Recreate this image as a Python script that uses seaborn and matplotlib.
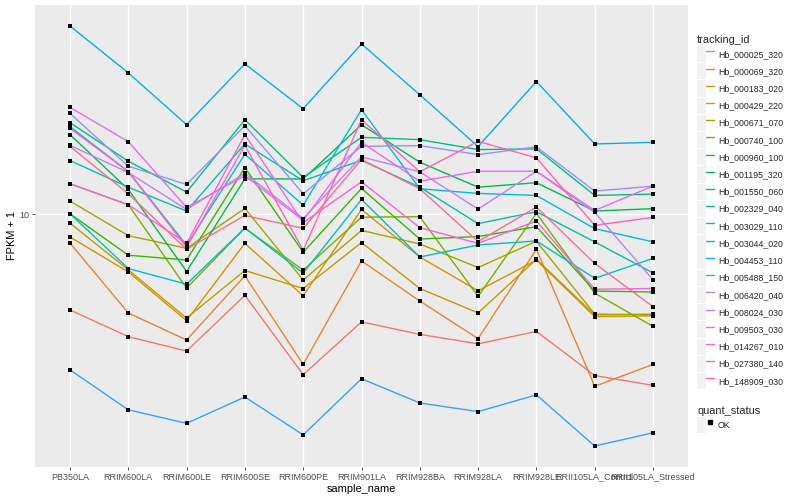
import numpy as np
import pandas as pd
import matplotlib
matplotlib.use('Agg')
import matplotlib.pyplot as plt
from matplotlib.lines import Line2D
from matplotlib.patches import Patch
from matplotlib.legend_handler import HandlerTuple
from matplotlib.ticker import NullLocator, NullFormatter
import seaborn as sns

# samples on the x axis
samples = ['PB350LA', 'RRIM600LA', 'RRIM600LE', 'RRIM600SE', 'RRIM600PE', 'RRIM901LA',
           'RRIM928BA', 'RRIM928LA', 'RRIM928LE', 'RRII105LA_Control', 'RRII105LA_Stressed']

tracking_ids = ['Hb_000025_320', 'Hb_000069_320', 'Hb_000183_020', 'Hb_000429_220',
                'Hb_000671_070', 'Hb_000740_100', 'Hb_000960_100', 'Hb_001195_320',
                'Hb_001550_060', 'Hb_002329_040', 'Hb_003029_110', 'Hb_003044_020',
                'Hb_004453_110', 'Hb_005488_150', 'Hb_006420_040', 'Hb_008024_030',
                'Hb_009503_030', 'Hb_014267_010', 'Hb_027380_140', 'Hb_148909_030']

# FPKM per gene, in sample order
fpkm_000025_320 = [3.79, 2.90, 2.49, 4.36, 1.91, 3.37, 2.97, 2.69, 3.06, 1.89, 1.68]
fpkm_000069_320 = [7.02, 3.68, 2.80, 5.23, 2.15, 5.99, 4.13, 2.84, 6.64, 1.66, 2.15]
fpkm_000183_020 = [7.40, 5.42, 3.41, 7.00, 4.34, 9.39, 6.20, 4.55, 6.03, 3.55, 3.58]
fpkm_000429_220 = [8.35, 5.52, 3.50, 5.49, 4.65, 7.05, 4.65, 3.68, 6.08, 3.61, 3.64]
fpkm_000671_070 = [10.08, 7.49, 6.70, 9.47, 5.03, 7.84, 6.96, 5.64, 7.13, 3.64, 3.61]
fpkm_000740_100 = [11.66, 9.77, 4.67, 8.00, 5.51, 8.79, 8.82, 4.32, 9.08, 4.45, 3.22]
fpkm_000960_100 = [9.05, 6.30, 6.04, 13.34, 6.47, 11.21, 7.27, 7.43, 8.10, 4.54, 4.50]
fpkm_001195_320 = [17.48, 11.12, 5.44, 12.15, 12.13, 18.95, 13.94, 11.33, 11.76, 9.26, 9.45]
fpkm_001550_060 = [19.26, 14.06, 10.87, 19.73, 12.29, 17.10, 16.78, 15.47, 15.56, 10.57, 10.69]
fpkm_002329_040 = [14.14, 11.33, 9.26, 16.20, 11.95, 14.17, 11.33, 8.31, 9.21, 7.09, 5.37]
fpkm_003029_110 = [9.05, 5.59, 4.84, 8.00, 5.36, 10.22, 6.20, 6.90, 7.15, 5.11, 6.13]
fpkm_003044_020 = [18.65, 12.91, 6.88, 14.89, 9.74, 21.39, 11.18, 10.75, 10.57, 7.96, 7.09]
fpkm_004453_110 = [41.66, 28.74, 18.95, 30.87, 21.56, 36.15, 24.12, 15.86, 26.82, 16.20, 16.42]
fpkm_005488_150 = [2.02, 1.22, 1.00, 1.45, 0.83, 1.82, 1.34, 1.19, 1.49, 0.68, 0.86]
fpkm_006420_040 = [20.76, 13.49, 11.59, 18.80, 10.72, 15.89, 15.98, 14.85, 15.81, 10.96, 11.43]
fpkm_008024_030 = [16.02, 12.80, 9.39, 12.70, 8.68, 14.57, 12.88, 9.41, 12.94, 9.15, 5.04]
fpkm_009503_030 = [21.79, 16.51, 9.55, 12.46, 8.55, 16.42, 11.91, 12.94, 12.94, 9.31, 11.43]
fpkm_014267_010 = [11.66, 9.77, 7.00, 17.48, 8.38, 11.85, 8.03, 7.00, 8.50, 4.62, 4.65]
fpkm_027380_140 = [18.40, 12.91, 6.76, 16.02, 6.59, 19.73, 12.88, 16.55, 14.45, 8.19, 8.77]
fpkm_148909_030 = [15.89, 10.72, 6.64, 8.92, 7.98, 14.26, 11.18, 7.11, 9.58, 5.85, 3.91]

series = [fpkm_000025_320, fpkm_000069_320, fpkm_000183_020, fpkm_000429_220,
          fpkm_000671_070, fpkm_000740_100, fpkm_000960_100, fpkm_001195_320,
          fpkm_001550_060, fpkm_002329_040, fpkm_003029_110, fpkm_003044_020,
          fpkm_004453_110, fpkm_005488_150, fpkm_006420_040, fpkm_008024_030,
          fpkm_009503_030, fpkm_014267_010, fpkm_027380_140, fpkm_148909_030]

# ggplot2 default hue palette for 20 levels
colors = ['#F8766D', '#EA8331', '#D89000', '#C09B00', '#A3A500', '#7CAE00', '#39B600',
          '#00BB4E', '#00BF7D', '#00C1A3', '#00BFC4', '#00BAE0', '#00B0F6', '#35A2FF',
          '#9590FF', '#C77CFF', '#E76BF3', '#FA62DB', '#FF62BC', '#FF6C91']

rows = []
for tid, vals in zip(tracking_ids, series):
    for s, v in zip(samples, vals):
        rows.append({'tracking_id': tid, 'sample_name': s, 'fpkm': v, 'quant_status': 'OK'})
df = pd.DataFrame(rows)
df['fpkm_plus1'] = df['fpkm'] + 1

sns.set_theme(style='darkgrid')
plt.rcParams['font.family'] = ['Liberation Sans', 'DejaVu Sans']

fig = plt.figure(figsize=(8, 5), dpi=100)
ax = fig.add_axes([35 / 800, 33 / 500, 653 / 800, 462 / 500])

sns.lineplot(data=df, x='sample_name', y='fpkm_plus1', hue='tracking_id',
             hue_order=tracking_ids, palette=colors, sort=False, estimator=None,
             lw=1.0, legend=False, ax=ax)
sns.scatterplot(data=df, x='sample_name', y='fpkm_plus1', color='black', marker='s',
                s=7, linewidth=0, legend=False, ax=ax, zorder=3)

# log10 axis with ggplot-style 5% expansion
ax.set_yscale('log')
lo = np.log10(df['fpkm_plus1'].min())
hi = np.log10(df['fpkm_plus1'].max())
pad = 0.05 * (hi - lo)
ax.set_ylim(10 ** (lo - pad), 10 ** (hi + pad))
ax.set_xlim(-0.6, len(samples) - 0.4)
ax.set_yticks([10])
ax.set_yticklabels(['10'])
ax.yaxis.set_minor_locator(NullLocator())
ax.yaxis.set_minor_formatter(NullFormatter())

ax.set_facecolor('#EBEBEB')
ax.grid(True, which='major', color='white', lw=1.0)
ax.set_axisbelow(True)
for sp in ax.spines.values():
    sp.set_visible(False)
ax.tick_params(axis='both', length=2, width=0.6, color='#333333', labelsize=6.5,
               labelcolor='#4D4D4D', pad=2, left=True, bottom=True)
ax.set_xlabel('sample_name', fontsize=7.9, labelpad=2, color='black')
ax.set_ylabel('FPKM + 1', fontsize=7.9, color='black')
ax.yaxis.set_label_coords(-0.027, 0.5)

# legends
key_bg = '#F2F2F2'
leg_kw = dict(loc='upper left', frameon=False, fontsize=6.3, title_fontsize=7.9,
              handlelength=1.95, handleheight=2.48, labelspacing=0.11,
              handletextpad=0.45, borderpad=0, borderaxespad=0,
              handler_map={tuple: HandlerTuple(ndivide=None, pad=0)})

h1 = [(Patch(facecolor=key_bg, edgecolor='none'), Line2D([], [], color=c, lw=1.0)) for c in colors]
leg1 = fig.legend(h1, tracking_ids, title='tracking_id',
                  bbox_to_anchor=(697 / 800, 1 - 35 / 500), **leg_kw)
leg1._legend_box.align = 'left'

h2 = [(Patch(facecolor=key_bg, edgecolor='none'),
       Line2D([], [], color='black', marker='s', linestyle='', markersize=3.2))]
leg2 = fig.legend(h2, ['OK'], title='quant_status',
                  bbox_to_anchor=(697 / 800, 1 - 406 / 500), **leg_kw)
leg2._legend_box.align = 'left'

fig.savefig('out.png', dpi=100)
